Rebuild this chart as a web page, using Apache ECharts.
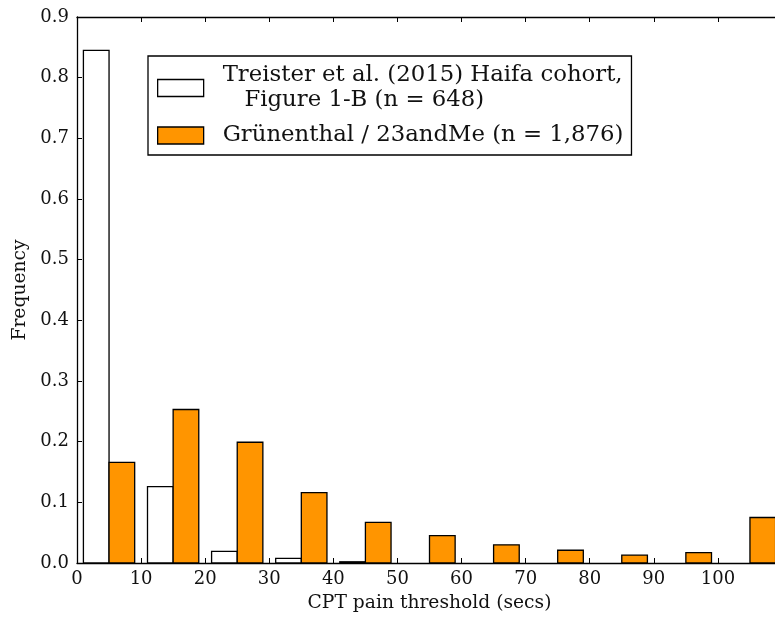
<!DOCTYPE html>
<html>
<head>
<meta charset="utf-8">
<script src="https://cdn.jsdelivr.net/npm/echarts@6/dist/echarts.min.js"></script>
<style>
  html, body { margin: 0; padding: 0; background: #fff; }
  #chart { width: 775px; height: 617px; }
</style>
</head>
<body>
<div id="chart"></div>
<script>
// histogram bins (secs), 10 wide
const binStarts = [0, 10, 20, 30, 40, 50, 60, 70, 80, 90, 100]
const treister = [0.845, 0.126, 0.019, 0.0075, 0.002, 0, 0, 0, 0, 0, 0]
const grunenthal = [0.166, 0.253, 0.199, 0.116, 0.067, 0.045, 0.030, 0.021, 0.013, 0.017, 0.075]
const xTicks = [0, 10, 20, 30, 40, 50, 60, 70, 80, 90, 100]
const yTicks = [0.0, 0.1, 0.2, 0.3, 0.4, 0.5, 0.6, 0.7, 0.8, 0.9]

const nameTreister = 'Treister et al. (2015) Haifa cohort,\n   Figure 1-B (n = 648)'
const nameGrun = 'Grünenthal / 23andMe (n = 1,876)'
const orange = '#ff9500'
const font = 'DejaVu Serif'

// bars sit inside each bin: first one 1..5, second 5..9
function barRenderer (offset, fill) {
  return function (params, api) {
    const v = api.value(1)
    if (!v) return null
    const x0 = api.value(0) + offset
    const p0 = api.coord([x0, v])
    const p1 = api.coord([x0 + 4, 0])
    return {
      type: 'rect',
      shape: { x: p0[0], y: p0[1], width: p1[0] - p0[0], height: p1[1] - p0[1] },
      style: { fill: fill, stroke: '#000', lineWidth: 1.3 }
    }
  }
}

const chart = echarts.init(document.getElementById('chart'))
const axisCommon = {
  type: 'value',
  min: 0,
  max: 110,
  interval: 10,
  axisLine: { show: true, lineStyle: { color: '#000', width: 1.3 } },
  axisTick: { show: true, inside: true, length: 5, lineStyle: { color: '#000', width: 1 } },
  splitLine: { show: false }
}
chart.setOption({
  animation: false,
  grid: { left: 77, right: -7, top: 17, bottom: 54, outerBoundsMode: 'none', containLabel: false },
  legend: {
    orient: 'vertical',
    left: 148,
    top: 56,
    padding: [7, 8, 7, 9],
    itemGap: 10,
    itemWidth: 46,
    itemHeight: 17,
    selectedMode: false,
    borderColor: '#000',
    borderWidth: 1.3,
    backgroundColor: '#fff',
    textStyle: { fontFamily: font, fontSize: 22.8, lineHeight: 25, color: '#111', padding: [0, 0, 0, 14] },
    data: [
      { name: nameTreister, icon: 'rect', itemStyle: { color: '#fff', borderColor: '#000', borderWidth: 1.3 } },
      { name: nameGrun, icon: 'rect', itemStyle: { color: orange, borderColor: '#000', borderWidth: 1.3 } }
    ]
  },
  xAxis: [
    Object.assign({}, axisCommon, {
      position: 'bottom',
      name: 'CPT pain threshold (secs)',
      nameLocation: 'middle',
      nameGap: 31,
      nameTextStyle: { fontFamily: font, fontSize: 18.7, color: '#111' },
      axisLabel: {
        fontFamily: font, fontSize: 18, color: '#111', margin: 7, showMaxLabel: false,
        formatter: function (v) { return xTicks.indexOf(v) >= 0 ? String(v) : '' }
      }
    }),
    Object.assign({}, axisCommon, { position: 'top', axisLabel: { show: false } })
  ],
  yAxis: [{
    type: 'value',
    min: 0,
    max: 0.9,
    interval: 0.1,
    name: 'Frequency',
    nameLocation: 'middle',
    nameGap: 44,
    nameTextStyle: { fontFamily: font, fontSize: 18.7, color: '#111' },
    axisLine: { show: true, lineStyle: { color: '#000', width: 1.3 } },
    axisTick: { show: true, inside: true, length: 5, lineStyle: { color: '#000', width: 1 } },
    splitLine: { show: false },
    axisLabel: {
      fontFamily: font, fontSize: 18, color: '#111', margin: 8,
      formatter: function (v) {
        const t = yTicks.find(function (y) { return Math.abs(y - v) < 1e-6 })
        return t === undefined ? '' : t.toFixed(1)
      }
    }
  }],
  series: [
    {
      name: nameTreister,
      type: 'custom',
      itemStyle: { color: '#fff', borderColor: '#000' },
      renderItem: barRenderer(1, '#fff'),
      encode: { x: 0, y: 1 },
      data: binStarts.map(function (b, i) { return [b, treister[i]] })
    },
    {
      name: nameGrun,
      type: 'custom',
      itemStyle: { color: orange, borderColor: '#000' },
      renderItem: barRenderer(5, orange),
      encode: { x: 0, y: 1 },
      data: binStarts.map(function (b, i) { return [b, grunenthal[i]] })
    }
  ]
})
</script>
</body>
</html>
